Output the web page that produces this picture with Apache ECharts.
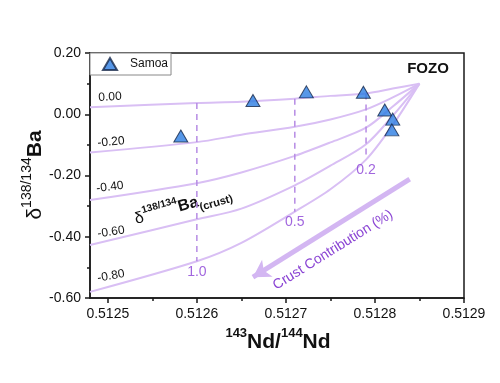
<!DOCTYPE html>
<html><head><meta charset="utf-8">
<script src="https://cdn.jsdelivr.net/npm/echarts@6/dist/echarts.min.js"></script>
<style>html,body{margin:0;padding:0;background:#fff}#c{width:500px;height:383px}</style>
</head><body><div id="c"></div>
<script>
// ---- data ----
const xTicks = [0.5125, 0.5126, 0.5127, 0.5128, 0.5129];
const xMinorTicks = [0.51255, 0.51265, 0.51275, 0.51285];
const samoaNd = [0.512582, 0.512663, 0.512723, 0.512787, 0.512811, 0.512820, 0.512819];
const samoaBa = [-0.071, 0.045, 0.073, 0.072, 0.014, -0.016, -0.051];
const curveNd = [0.51248, 0.51260, 0.51265, 0.51271, 0.51275, 0.51279, 0.51282, 0.51285];
const ba000 = [0.023, 0.037, 0.041, 0.051, 0.060, 0.068, 0.084, 0.100];
const ba020 = [-0.125, -0.091, -0.067, -0.041, -0.017, 0.016, 0.055, 0.100];
const ba040 = [-0.280, -0.225, -0.190, -0.136, -0.092, -0.044, 0.025, 0.100];
const ba060 = [-0.427, -0.343, -0.308, -0.232, -0.168, -0.098, -0.005, 0.100];
const ba080 = [-0.580, -0.480, -0.420, -0.318, -0.245, -0.148, -0.035, 0.100];
const curveLabels = ['0.00', '-0.20', '-0.40', '-0.60', '-0.80'];
const fractionIdx = [1, 3, 5];
const fractionLabels = ['1.0', '0.5', '0.2'];
const arrowFrom = [0.512839, -0.212];
const arrowTo = [0.512663, -0.532];

const FONT = '"Liberation Sans", Arial, sans-serif';
const curves = [ba000, ba020, ba040, ba060, ba080];
const series = [];
curves.forEach((arr, k) => {
  series.push({
    type: 'line', name: 'mix' + k, data: curveNd.map((x, i) => [x, arr[i]]),
    smooth: 0.3, showSymbol: false, silent: true, z: 1,
    lineStyle: { color: '#d9bff4', width: 2 }
  });
});
fractionIdx.forEach((idx, k) => {
  series.push({
    type: 'line', name: 'f' + k,
    data: [[curveNd[idx], ba000[idx]], [curveNd[idx], ba080[idx]]],
    showSymbol: false, silent: true, z: 2,
    lineStyle: { color: '#b68be4', width: 1.5, type: [6, 5] }
  });
});
series.push({
  type: 'scatter', name: 'fracLabels', silent: true, z: 3,
  symbolSize: 1, itemStyle: { color: 'transparent' },
  data: fractionIdx.map(idx => [curveNd[idx], ba080[idx]]),
  label: {
    show: true, position: 'bottom', distance: 3,
    formatter: p => fractionLabels[p.dataIndex],
    color: '#8a40d6', fontSize: 14, fontFamily: FONT
  },
  markLine: {
    silent: true, symbol: ['none', 'arrow'], symbolSize: [15, 17],
    label: { show: false },
    lineStyle: { color: '#d3b6f2', width: 5, type: 'solid' },
    data: [[{ coord: arrowFrom }, { coord: arrowTo }]]
  }
});
series.push({
  type: 'scatter', name: 'Samoa', z: 10,
  symbol: 'triangle', symbolSize: [14, 12],
  itemStyle: { color: '#2c7de2', borderColor: '#16284a', borderWidth: 1 },
  data: samoaNd.map((x, i) => [x, samoaBa[i]])
});

const chart = echarts.init(document.getElementById('c'));
const axisCommon = { show: true, onZero: false, lineStyle: { color: '#1a1a1a', width: 1.5 } };
chart.setOption({
  animation: false,
  textStyle: { fontFamily: FONT },
  grid: { left: 90, top: 53, right: 36, bottom: 85, show: true, borderColor: '#1a1a1a', borderWidth: 1.5 },
  legend: {
    left: 90, top: 53, orient: 'vertical', data: ['Samoa'],
    backgroundColor: '#fff', borderColor: '#888', borderWidth: 1,
    padding: [4, 3, 4, 12], itemWidth: 14, itemHeight: 12,
    textStyle: { fontSize: 12, color: '#111', padding: [0, 0, 0, 8] }
  },
  xAxis: [{
    type: 'value', min: 0.51248, max: 0.5129, position: 'bottom',
    axisLine: axisCommon, splitLine: { show: false },
    axisTick: { show: true, length: 5, customValues: xTicks, lineStyle: { color: '#1a1a1a', width: 1.5 } },
    axisLabel: { customValues: xTicks, formatter: v => v.toFixed(4), fontSize: 14, color: '#111', margin: 9 }
  }, {
    type: 'value', min: 0.51248, max: 0.5129, position: 'bottom',
    axisLine: { show: false, onZero: false }, splitLine: { show: false },
    axisTick: { show: true, length: 3, customValues: xMinorTicks, lineStyle: { color: '#1a1a1a', width: 1.5 } },
    axisLabel: { show: false }
  }],
  yAxis: {
    type: 'value', min: -0.6, max: 0.2, interval: 0.2,
    axisLine: axisCommon, splitLine: { show: false },
    axisTick: { show: true, length: 5, lineStyle: { color: '#1a1a1a', width: 1.5 } },
    minorTick: { show: true, splitNumber: 2, length: 3, lineStyle: { color: '#1a1a1a', width: 1.5 } },
    axisLabel: { formatter: v => Math.abs(v) < 1e-9 ? '0.00' : v.toFixed(2), fontSize: 14, color: '#111', margin: 9 }
  },
  series: series,
  graphic: [
    { type: 'text', x: 428, y: 69, style: { text: 'FOZO', font: 'bold 15px ' + FONT, fill: '#111', align: 'center', verticalAlign: 'middle' } },
    { type: 'text', x: 110, y: 97, rotation: 3 * Math.PI / 180, style: { text: curveLabels[0], font: '12px ' + FONT, fill: '#111', align: 'center', verticalAlign: 'middle' } },
    { type: 'text', x: 111, y: 142, rotation: 5 * Math.PI / 180, style: { text: curveLabels[1], font: '12px ' + FONT, fill: '#111', align: 'center', verticalAlign: 'middle' } },
    { type: 'text', x: 110, y: 187, rotation: 7 * Math.PI / 180, style: { text: curveLabels[2], font: '12px ' + FONT, fill: '#111', align: 'center', verticalAlign: 'middle' } },
    { type: 'text', x: 111, y: 232, rotation: 8 * Math.PI / 180, style: { text: curveLabels[3], font: '12px ' + FONT, fill: '#111', align: 'center', verticalAlign: 'middle' } },
    { type: 'text', x: 111, y: 276, rotation: 10 * Math.PI / 180, style: { text: curveLabels[4], font: '12px ' + FONT, fill: '#111', align: 'center', verticalAlign: 'middle' } },
    { type: 'text', x: 183, y: 206, rotation: 16 * Math.PI / 180, style: {
        text: '{d|δ}{sup|138/134}{b|Ba}{sub|(crust)}', align: 'center', verticalAlign: 'middle', fill: '#111',
        rich: {
          d: { fontSize: 16, fontFamily: FONT, verticalAlign: 'middle', lineHeight: 24 },
          sup: { fontSize: 10, fontWeight: 'bold', fontFamily: FONT, verticalAlign: 'top', lineHeight: 12 },
          b: { fontSize: 16, fontWeight: 'bold', fontFamily: FONT, verticalAlign: 'middle', lineHeight: 24 },
          sub: { fontSize: 11, fontWeight: 'bold', fontFamily: FONT, verticalAlign: 'bottom', lineHeight: 11 }
        } } },
    { type: 'text', x: 333, y: 250, rotation: 32 * Math.PI / 180, style: { text: 'Crust Contribution (%)', font: '14px ' + FONT, fill: '#8b45d4', align: 'center', verticalAlign: 'middle' } },
    { type: 'text', x: 33, y: 175, rotation: Math.PI / 2, style: {
        text: '{d|δ}{sup|138/134}{b|Ba}', align: 'center', verticalAlign: 'middle', fill: '#111',
        rich: {
          d: { fontSize: 21, fontFamily: FONT, verticalAlign: 'bottom', lineHeight: 26 },
          sup: { fontSize: 14, fontFamily: FONT, verticalAlign: 'top', lineHeight: 15 },
          b: { fontSize: 21, fontWeight: 'bold', fontFamily: FONT, verticalAlign: 'bottom', lineHeight: 26 }
        } } },
    { type: 'text', x: 278, y: 340, style: {
        text: '{sup|143}{b|Nd/}{sup|144}{b|Nd}', align: 'center', verticalAlign: 'middle', fill: '#111',
        rich: {
          sup: { fontSize: 13, fontWeight: 'bold', fontFamily: FONT, verticalAlign: 'top', lineHeight: 14 },
          b: { fontSize: 21, fontWeight: 'bold', fontFamily: FONT, verticalAlign: 'bottom', lineHeight: 26 }
        } } }
  ]
});
</script></body></html>
